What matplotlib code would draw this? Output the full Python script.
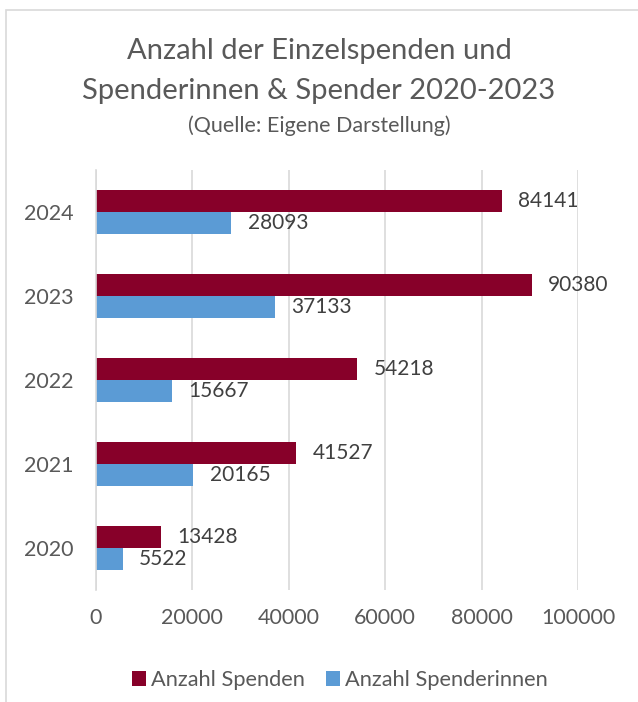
import numpy as np
import matplotlib.pyplot as plt
from matplotlib.patches import Rectangle

years = ['2020', '2021', '2022', '2023', '2024']
spenden = [13428, 41527, 54218, 90380, 84141]        # Anzahl Spenden
spenderinnen = [5522, 20165, 15667, 37133, 28093]    # Anzahl Spenderinnen
xticks = [0, 20000, 40000, 60000, 80000, 100000]

red = '#870029'
blue = '#5B9BD5'
grey = '#595959'

plt.rcParams['font.family'] = ['Lato', 'DejaVu Sans']

fig = plt.figure(figsize=(6.38, 7.02), dpi=100)
# chart frame like in the office export
fig.patches.append(Rectangle((6/638, -0.1), 1.2, 1 - 10/702 + 0.1, transform=fig.transFigure,
                             fill=False, edgecolor='#d9d9d9', linewidth=1.2))

ax = fig.add_axes([96/638, 1 - 590/702, 482/638, 420/702])

y = np.arange(len(years))
h = 0.265
b1 = ax.barh(y + h/2, spenden, height=h, color=red, label='Anzahl Spenden')
b2 = ax.barh(y - h/2, spenderinnen, height=h, color=blue, label='Anzahl Spenderinnen')
ax.bar_label(b1, padding=12, fontsize=15, color='#404040')
ax.bar_label(b2, padding=12, fontsize=15, color='#404040')

ax.set_xlim(0, 100000)
ax.set_ylim(-0.5, 4.5)
ax.set_xticks(xticks)
ax.set_xticklabels([str(t) for t in xticks])
ax.set_yticks(y)
ax.set_yticklabels(years)
ax.tick_params(axis='both', length=0, labelsize=15.5, labelcolor=grey)
ax.tick_params(axis='y', pad=16)
ax.tick_params(axis='x', pad=13)
ax.grid(axis='x', color='#d9d9d9', linewidth=1.2)
ax.set_axisbelow(True)
for s in ['top', 'right', 'bottom']:
    ax.spines[s].set_visible(False)
ax.spines['left'].set_color('#d9d9d9')
ax.spines['left'].set_linewidth(1.2)

fig.text(0.5, 1 - 51/702, 'Anzahl der Einzelspenden und', ha='center', va='center',
         fontsize=21, color=grey)
fig.text(0.5, 1 - 91/702, 'Spenderinnen & Spender 2020-2023', ha='center', va='center',
         fontsize=21, color=grey)
fig.text(0.5, 1 - 126/702, '(Quelle: Eigene Darstellung)', ha='center', va='center',
         fontsize=15.5, color=grey)

fig.legend(handles=[b1, b2], loc='center', bbox_to_anchor=(340/638, 1 - 680/702),
           ncol=2, frameon=False, fontsize=15.7, labelcolor=grey,
           handlelength=0.64, handleheight=0.64, handletextpad=0.23, columnspacing=1.0)

plt.savefig('out.png', dpi=100)
